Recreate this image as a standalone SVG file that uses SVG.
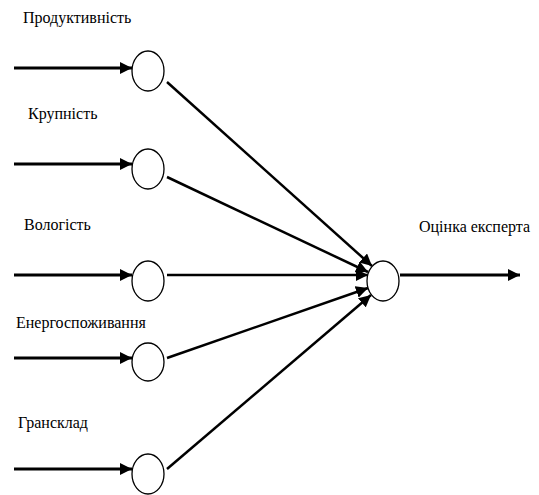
<svg xmlns="http://www.w3.org/2000/svg" width="539" height="495" viewBox="0 0 539 495">
<style>
text{font-family:"Liberation Serif","Times New Roman",serif;font-size:16px;fill:#000}
.node{fill:#fff;stroke:#000;stroke-width:1.3}
.in{stroke:#000;stroke-width:3;fill:none}
.edge{stroke:#000;stroke-width:2.5;fill:none}
</style>
<defs>
<marker id="ah" markerUnits="userSpaceOnUse" markerWidth="13" markerHeight="12" refX="12" refY="6" orient="auto">
<path d="M0,0 L12,6 L0,12 z" fill="#000"/>
</marker>
</defs>
<rect width="539" height="495" fill="#fff"/>
<g id="labels">
<text x="23" y="23">Продуктивність</text>
<text x="28" y="119">Крупність</text>
<text x="24" y="230">Вологість</text>
<text x="16" y="328">Енергоспоживання</text>
<text x="18" y="428">Грансклад</text>
<text x="419" y="232">Оцінка експерта</text>
</g>
<g id="connectors">
<line class="in" x1="14" y1="68" x2="132" y2="68" marker-end="url(#ah)"/>
<line class="in" x1="14" y1="164" x2="132" y2="164" marker-end="url(#ah)"/>
<line class="in" x1="14" y1="275" x2="132" y2="275" marker-end="url(#ah)"/>
<line class="in" x1="14" y1="358" x2="132" y2="358" marker-end="url(#ah)"/>
<line class="in" x1="14" y1="469" x2="132" y2="469" marker-end="url(#ah)"/>
<line class="edge" x1="167" y1="82" x2="372" y2="266" marker-end="url(#ah)"/>
<line class="edge" x1="167" y1="177" x2="368" y2="272" marker-end="url(#ah)"/>
<line class="edge" x1="167" y1="275" x2="368" y2="275" marker-end="url(#ah)"/>
<line class="edge" x1="167" y1="358" x2="368" y2="288" marker-end="url(#ah)"/>
<line class="edge" x1="167" y1="469" x2="371" y2="295" marker-end="url(#ah)"/>
<line class="in" x1="400" y1="275" x2="520" y2="275" marker-end="url(#ah)"/>
</g>
<g id="n1"><ellipse class="node" cx="148" cy="71" rx="16" ry="20"/></g>
<g id="n2"><ellipse class="node" cx="148" cy="169" rx="16" ry="20"/></g>
<g id="n3"><ellipse class="node" cx="148" cy="281" rx="16" ry="20"/></g>
<g id="n4"><ellipse class="node" cx="148" cy="362" rx="16" ry="19"/></g>
<g id="n5"><ellipse class="node" cx="148" cy="474" rx="16" ry="20"/></g>
<g id="out"><ellipse class="node" cx="383" cy="281" rx="16" ry="20"/></g>
</svg>
